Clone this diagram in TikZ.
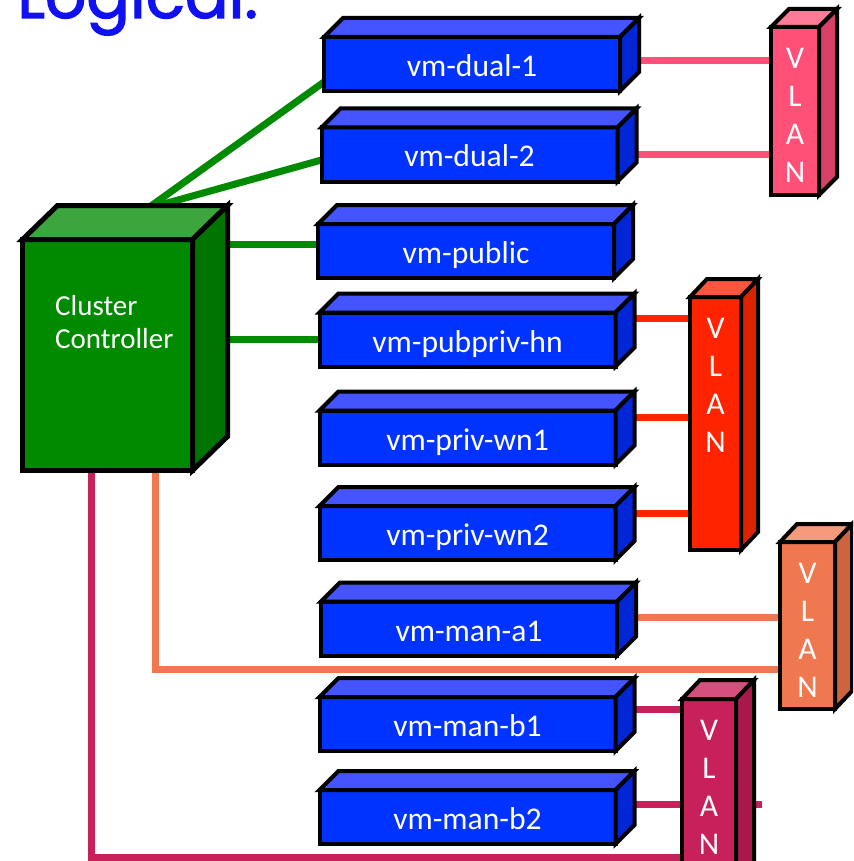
\documentclass[tikz,border=0pt]{standalone}
\usepackage{fontspec}
\usepackage{graphicx}
\setmainfont{Carlito}
\newfontfamily\titlefont[FakeBold=2]{Poppins}
\usetikzlibrary{calc}
\pgfdeclarelayer{background}
\pgfsetlayers{background,main}
\definecolor{titleblue}{HTML}{1010F0}
\definecolor{vmfront}{HTML}{0033FF}
\definecolor{vmtop}{HTML}{4455FF}
\definecolor{vmside}{HTML}{0026D6}
\definecolor{ccfront}{HTML}{008A00}
\definecolor{cctop}{HTML}{3DA53D}
\definecolor{ccside}{HTML}{007400}
\definecolor{vaf}{HTML}{FF5078}
\definecolor{vat}{HTML}{FF7B97}
\definecolor{vas}{HTML}{D94068}
\definecolor{vbf}{HTML}{FF2400}
\definecolor{vbt}{HTML}{FF5540}
\definecolor{vbs}{HTML}{DD2200}
\definecolor{vcf}{HTML}{F07850}
\definecolor{vct}{HTML}{F39A7A}
\definecolor{vcs}{HTML}{CC6440}
\definecolor{vdf}{HTML}{C8205A}
\definecolor{vdt}{HTML}{D4507E}
\definecolor{vds}{HTML}{A8184A}
\newcommand\cubefaces[5]{%
  \filldraw[fill=#4] (#1.north west) -- ++(#2,#3) -- ([shift={(#2,#3)}]#1.north east) -- (#1.north east) -- cycle;
  \filldraw[fill=#5] (#1.north east) -- ++(#2,#3) -- ([shift={(#2,#3)}]#1.south east) -- (#1.south east) -- cycle;
}
\tikzset{
  vmbox/.style={draw, line width=4pt, fill=vmfront, minimum width=296pt, minimum height=54pt,
    inner sep=0pt, outer sep=0pt, text=white, font=\fontsize{31.6}{38}\selectfont,
    text height=25pt, text depth=0pt},
  vlanbox/.style={draw, line width=4pt, inner sep=0pt, outer sep=0pt},
  vlantext/.style={text=white, font=\fontsize{31.6}{38}\selectfont, align=center, inner sep=0pt, anchor=north},
  ccbox/.style={draw, line width=5pt, fill=ccfront, minimum width=170pt, minimum height=231pt, inner sep=0pt, outer sep=0pt},
  cctext/.style={text=white, font=\fontsize{29}{33}\selectfont, align=left, inner sep=0pt},
  conn/.style={line width=7pt, line join=miter},
  gline/.style={conn, draw=ccfront},
  aline/.style={conn, draw=vaf},
  bline/.style={conn, draw=vbf},
  cline/.style={conn, draw=vcf},
  dline/.style={conn, draw=vdf},
}
\begin{document}
\begin{tikzpicture}[x=1pt, y=-1pt, line join=miter]
\useasboundingbox (0,0) rectangle (853,861);
\clip (0,0) rectangle (853,861);

% title
\node[anchor=base west, inner sep=0pt, text=titleblue, font=\titlefont] (title) at (17,18) {\resizebox{241pt}{!}{Logical:}};

% cluster controller
\node[ccbox] (cc) at (107.5,355) {};
\begin{scope}[line width=5pt]
  \cubefaces{cc}{35}{-34}{cctop}{ccside}
\end{scope}
\node[cctext, anchor=base west] (cct) at (55,348) {Cluster\\Controller};

% VM boxes
\node[vmbox] (dual1) at (472,64) {vm-dual-1};
\node[vmbox] (dual2) at (469.5,154.5) {vm-dual-2};
\node[vmbox] (public) at (466,251) {vm-public};
\node[vmbox] (hn) at (467.5,339.5) {vm-pubpriv-hn};
\node[vmbox] (wn1) at (467.5,437.5) {vm-priv-wn1};
\node[vmbox] (wn2) at (467.5,533) {vm-priv-wn2};
\node[vmbox] (mana1) at (469,628.5) {vm-man-a1};
\node[vmbox] (manb1) at (467.5,724) {vm-man-b1};
\node[vmbox] (manb2) at (467.5,817) {vm-man-b2};
\begin{scope}[line width=4pt]
  \foreach \n in {dual1,dual2,public,hn,wn1,wn2,mana1,manb1,manb2}{
    \cubefaces{\n}{19}{-19}{vmtop}{vmside}
  }
\end{scope}

% VLAN boxes
\node[vlanbox, fill=vaf, minimum width=48pt, minimum height=168pt] (vlan1) at (795,111) {};
\node[vlanbox, fill=vbf, minimum width=51pt, minimum height=253pt] (vlan2) at (715.5,423.5) {};
\node[vlanbox, fill=vcf, minimum width=55pt, minimum height=167pt] (vlan3) at (807.5,625.5) {};
\node[vlanbox, fill=vdf, minimum width=54pt, minimum height=220pt] (vlan4) at (709,809) {};
\begin{scope}[line width=4pt]
  \cubefaces{vlan1}{18}{-18}{vat}{vas}
  \cubefaces{vlan2}{17}{-18}{vbt}{vbs}
  \cubefaces{vlan3}{17}{-18}{vct}{vcs}
  \cubefaces{vlan4}{18}{-19}{vdt}{vds}
\end{scope}
\node[vlantext] (vt1) at ([yshift=-21pt]vlan1.north) {V\\L\\A\\N};
\node[vlantext] (vt2) at ([yshift=-21pt]vlan2.north) {V\\L\\A\\N};
\node[vlantext] (vt3) at ([yshift=-21pt]vlan3.north) {V\\L\\A\\N};
\node[vlantext] (vt4) at ([yshift=-21pt]vlan4.north) {V\\L\\A\\N};

% connectors
\begin{pgfonlayer}{background}
  \coordinate (g1) at (142.6,212);
  \coordinate (g2) at (135,212);
  \draw[gline] (g1) -- ([yshift=-18pt]dual1.west);
  \draw[gline] (g2) -- ([yshift=-5.5pt]dual2.west);
  \coordinate (gp) at ([yshift=7pt]public.west);
  \draw[gline] (cc.east |- gp) -- (gp);
  \draw[gline] (cc.east |- hn.west) -- (hn.west);

  \coordinate (a1) at ([yshift=3pt]dual1.east);
  \draw[aline] (a1) -- (a1 -| vlan1.west);
  \draw[aline] (dual2.east) -- (dual2.east -| vlan1.west);

  \coordinate (b1) at ([yshift=21.5pt]hn.east);
  \coordinate (b2) at ([yshift=20.5pt]wn1.east);
  \coordinate (b3) at ([yshift=20pt]wn2.east);
  \draw[bline] (b1) -- (b1 -| vlan2.west);
  \draw[bline] (b2) -- (b2 -| vlan2.west);
  \draw[bline] (b3) -- (b3 -| vlan2.west);

  \coordinate (c1) at ([yshift=11.5pt]mana1.east);
  \draw[cline] (c1) -- (c1 -| vlan3.west);
  \coordinate (co1) at ([xshift=47.5pt]cc.south);
  \coordinate (co2) at ([yshift=-43.5pt]vlan3.west);
  \draw[cline] (co1) |- (co2);

  \coordinate (d1) at ([yshift=15pt]manb1.east);
  \draw[dline] (d1) -- (d1 -| vlan4.west);
  \coordinate (d2) at ([yshift=13pt]manb2.east);
  \coordinate (v4r) at ([xshift=26pt]vlan4.east);
  \draw[dline] (d2) -- (d2 -| v4r);
  \coordinate (do1) at ([xshift=-16.5pt]cc.south);
  \coordinate (do2) at ([yshift=-48pt]vlan4.west);
  \draw[dline] (do1) |- (do2);
\end{pgfonlayer}
\end{tikzpicture}
\end{document}
